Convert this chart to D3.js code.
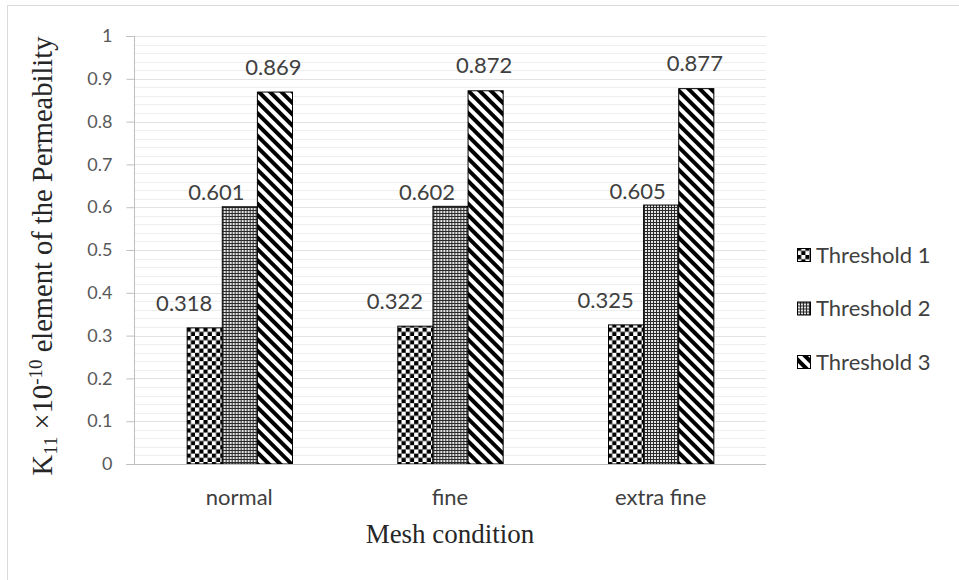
<!DOCTYPE html>
<html>
<head>
<meta charset="utf-8">
<script src="https://cdn.jsdelivr.net/npm/d3@7"></script>
<style>
  html, body { margin: 0; padding: 0; background: #fff; }
  svg { display: block; }
</style>
</head>
<body>
<svg id="chart" width="959" height="580"></svg>
<script>
// Mesh conditions along the x axis
const categories = ["normal", "fine", "extra fine"];
// One series per threshold
const seriesNames = ["Threshold 1", "Threshold 2", "Threshold 3"];
const threshold1 = [0.318, 0.322, 0.325];
const threshold2 = [0.601, 0.602, 0.605];
const threshold3 = [0.869, 0.872, 0.877];
const seriesValues = [threshold1, threshold2, threshold3];
const yTicks = [0, 0.1, 0.2, 0.3, 0.4, 0.5, 0.6, 0.7, 0.8, 0.9, 1];
const yTickLabels = ["0", "0.1", "0.2", "0.3", "0.4", "0.5", "0.6", "0.7", "0.8", "0.9", "1"];

const svg = d3.select("#chart");
const sans = "Lato, 'Open Sans', sans-serif";
const serif = "'Liberation Serif', 'Times New Roman', serif";

// Plot area
const plot = { left: 134, right: 766, top: 36, bottom: 464 };

// Fill patterns for the three series
const defs = svg.append("defs");
const checker = defs.append("pattern").attr("id", "pat-checker")
  .attr("patternUnits", "userSpaceOnUse").attr("width", 8.4).attr("height", 8.4);
checker.append("rect").attr("width", 8.4).attr("height", 8.4).attr("fill", "#fff");
checker.append("rect").attr("x", 0).attr("y", 0).attr("width", 4.2).attr("height", 4.2).attr("fill", "#000");
checker.append("rect").attr("x", 4.2).attr("y", 4.2).attr("width", 4.2).attr("height", 4.2).attr("fill", "#000");

// fine mesh: thin dark grid with small white cells
const dots = defs.append("pattern").attr("id", "pat-dots")
  .attr("patternUnits", "userSpaceOnUse").attr("width", 3).attr("height", 3);
dots.append("rect").attr("width", 3).attr("height", 3).attr("fill", "#2a2a2a");
dots.append("rect").attr("x", 1).attr("y", 1).attr("width", 2).attr("height", 2).attr("fill", "#f2f2f2");
dots.append("rect").attr("x", 1.6).attr("y", 1.6).attr("width", 0.8).attr("height", 0.8).attr("fill", "#9a9a9a");

const hatch = defs.append("pattern").attr("id", "pat-hatch")
  .attr("patternUnits", "userSpaceOnUse").attr("width", 8).attr("height", 8)
  .attr("patternTransform", "rotate(-45)");
hatch.append("rect").attr("width", 8).attr("height", 8).attr("fill", "#fff");
hatch.append("rect").attr("x", 0).attr("y", 0).attr("width", 4).attr("height", 8).attr("fill", "#000");

const fills = ["url(#pat-checker)", "url(#pat-dots)", "url(#pat-hatch)"];

// Chart frame
svg.append("rect")
  .attr("x", 7.5).attr("y", 5.5).attr("width", 970).attr("height", 600)
  .attr("fill", "none").attr("stroke", "#d9d9d9").attr("stroke-width", 1);

// Scales
const y = d3.scaleLinear().domain([0, 1]).range([plot.bottom, plot.top]);
const x0 = d3.scaleBand().domain(categories).range([plot.left, plot.right]).padding(0);
const groupWidth = x0.bandwidth() / 2;
const x1 = d3.scaleBand().domain(d3.range(seriesNames.length)).range([0, groupWidth]).padding(0);

// Gridlines: minor every 0.02, major every 0.1
const minor = d3.range(0, 1.0001, 0.02).filter(v => Math.abs(Math.round(v * 10) - v * 10) > 1e-6);
svg.append("g").selectAll("line").data(minor).join("line")
  .attr("x1", plot.left).attr("x2", plot.right)
  .attr("y1", d => Math.round(y(d)) + 0.5).attr("y2", d => Math.round(y(d)) + 0.5)
  .attr("stroke", "#eeeeee").attr("stroke-width", 1);
svg.append("g").selectAll("line").data(yTicks.slice(1)).join("line")
  .attr("x1", plot.left).attr("x2", plot.right)
  .attr("y1", d => Math.round(y(d)) + 0.5).attr("y2", d => Math.round(y(d)) + 0.5)
  .attr("stroke", "#e2e2e2").attr("stroke-width", 1);

// Y axis
const yAxis = d3.axisLeft(y).tickValues(yTicks)
  .tickFormat((d, i) => yTickLabels[i]).tickSize(8).tickPadding(14);
const gy = svg.append("g").attr("transform", `translate(${plot.left + 0.5},0)`).call(yAxis);
gy.select(".domain").attr("stroke", "#bfbfbf").attr("d", `M-8,${plot.top + 0.5}H0V${plot.bottom + 0.5}`);
gy.selectAll(".tick line").attr("stroke", "#bfbfbf");
gy.selectAll(".tick text").attr("font-family", sans).attr("font-size", 18).attr("fill", "#595959");

// Bars
const groups = svg.append("g").selectAll("g").data(categories).join("g")
  .attr("transform", d => `translate(${x0(d) + (x0.bandwidth() - groupWidth) / 2},0)`);
groups.selectAll("rect").data((c, ci) => seriesValues.map((vals, si) => ({ si, v: vals[ci] })))
  .join("rect")
  .attr("x", d => x1(d.si) + 0.5)
  .attr("y", d => y(d.v))
  .attr("width", x1.bandwidth())
  .attr("height", d => y(0) - y(d.v))
  .attr("fill", d => fills[d.si])
  .attr("stroke", "#000").attr("stroke-width", 1);

// X axis baseline
svg.append("line")
  .attr("x1", plot.left - 8).attr("x2", plot.right)
  .attr("y1", plot.bottom + 0.5).attr("y2", plot.bottom + 0.5)
  .attr("stroke", "#bfbfbf");

// Value labels, nudged per series
const labelDx = [-20, -23, -1];
const labelDy = [-25, -14, -25];
groups.selectAll("text.val").data((c, ci) => seriesValues.map((vals, si) => ({ si, v: vals[ci] })))
  .join("text").attr("class", "val")
  .attr("x", d => x1(d.si) + x1.bandwidth() / 2 + labelDx[d.si])
  .attr("y", d => y(d.v) + labelDy[d.si])
  .attr("dy", "0.35em")
  .attr("text-anchor", "middle")
  .attr("font-family", sans).attr("font-size", 22).attr("fill", "#404040")
  .text(d => d.v.toFixed(3));

// Category labels
svg.append("g").selectAll("text").data(categories).join("text")
  .attr("x", d => x0(d) + x0.bandwidth() / 2)
  .attr("y", 497).attr("dy", "0.35em")
  .attr("text-anchor", "middle")
  .attr("font-family", sans).attr("font-size", 22).attr("fill", "#404040")
  .text(d => d);

// X axis title
svg.append("text")
  .attr("x", (plot.left + plot.right) / 2).attr("y", 543)
  .attr("text-anchor", "middle")
  .attr("font-family", serif).attr("font-size", 27).attr("fill", "#262626")
  .text("Mesh condition");

// Y axis title
const yt = svg.append("text")
  .attr("transform", "translate(52,256) rotate(-90)")
  .attr("text-anchor", "middle")
  .attr("font-family", serif).attr("font-size", 28.5).attr("fill", "#262626");
yt.append("tspan").text("K");
yt.append("tspan").attr("font-size", 19).attr("dy", 5).text("11");
yt.append("tspan").attr("dy", -5).text(" \u00d710");
yt.append("tspan").attr("font-size", 19).attr("dy", -10).text("-10");
yt.append("tspan").attr("dy", 10).text(" element of the Permeability");

// Legend
const legend = svg.append("g").selectAll("g").data(seriesNames).join("g")
  .attr("transform", (d, i) => `translate(797,${255 + i * 53.5})`);
legend.append("rect")
  .attr("x", 0.5).attr("y", -6.5).attr("width", 13).attr("height", 13)
  .attr("fill", (d, i) => fills[i]).attr("stroke", "#000");
legend.append("text")
  .attr("x", 19).attr("y", 0).attr("dy", "0.35em")
  .attr("font-family", sans).attr("font-size", 22).attr("fill", "#404040")
  .text(d => d);
</script>
</body>
</html>
